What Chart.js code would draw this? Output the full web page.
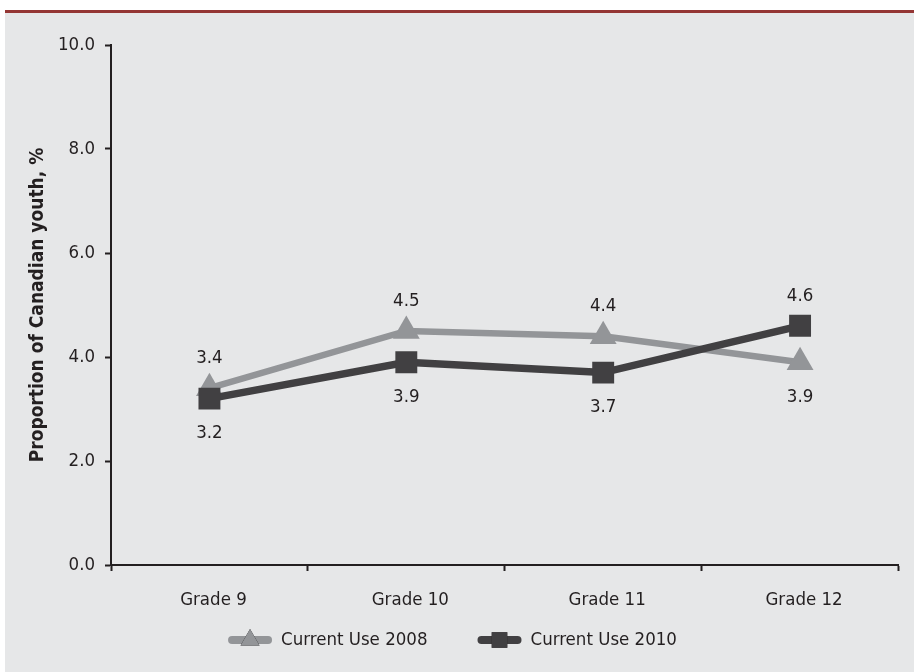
<!DOCTYPE html>
<html>
<head>
<meta charset="utf-8">
<script src="https://cdn.jsdelivr.net/npm/chart.js@4"></script>
<style>
  html, body { margin: 0; padding: 0; background: #fff; }
  #box {
    position: absolute; left: 5px; top: 10px;
    width: 909px; height: 659px;
    border-top: 3px solid #943634;
    background: #e6e7e8;
  }
  #wrap { position: relative; width: 909px; height: 659px; }
</style>
</head>
<body>
<div id="box"><div id="wrap"><canvas id="chart"></canvas></div></div>
<script>
const grades = ['Grade 9', 'Grade 10', 'Grade 11', 'Grade 12'];
const use2008 = [3.4, 4.5, 4.4, 3.9];
const use2010 = [3.2, 3.9, 3.7, 4.6];
const seriesNames = ['Current Use 2008', 'Current Use 2010'];

const FONT = '"DejaVu Sans Condensed", "DejaVu Sans", sans-serif';
const TEXT = '#231f20';
const GRAY = '#939598';
const DARK = '#414042';

// value labels above / below each point
const valueLabels = {
    id: 'valueLabels',
    afterDatasetsDraw(chart) {
        const ctx = chart.ctx;
        ctx.save();
        ctx.font = '18.5px ' + FONT;
        ctx.fillStyle = TEXT;
        ctx.textAlign = 'center';
        ctx.textBaseline = 'middle';
        chart.data.datasets.forEach((ds, i) => {
            const meta = chart.getDatasetMeta(i);
            meta.data.forEach((pt, j) => {
                const dy = ds.labelPos[j] === 'above' ? -30 : 35;
                ctx.fillText(ds.data[j].toFixed(1), pt.x, pt.y + dy);
            });
        });
        ctx.restore();
    }
};

// legend: short line with the marker on it, then the text
const lineLegend = {
    id: 'lineLegend',
    afterDraw(chart) {
        const ctx = chart.ctx;
        const y = 627;
        const lineW = 44, gapText = 9, gapItem = 50;
        ctx.save();
        ctx.font = '18.5px ' + FONT;
        const items = chart.data.datasets.map(ds => ({ ds, w: ctx.measureText(ds.label).width }));
        const total = items.reduce((s, it) => s + lineW + gapText + it.w, 0) + gapItem * (items.length - 1);
        let x = chart.width / 2 - total / 2 - 7;
        items.forEach(it => {
            const ds = it.ds;
            ctx.strokeStyle = ds.borderColor;
            ctx.lineWidth = 8;
            ctx.lineCap = 'round';
            ctx.beginPath();
            ctx.moveTo(x + 4, y);
            ctx.lineTo(x + lineW - 4, y);
            ctx.stroke();
            Chart.helpers.drawPoint(ctx, {
                pointStyle: ds.pointStyle, radius: 11, rotation: 0, borderWidth: 0
            }, x + lineW / 2, y);
            ctx.fillStyle = ds.pointBackgroundColor;
            ctx.fill();
            ctx.fillStyle = TEXT;
            ctx.textAlign = 'left';
            ctx.textBaseline = 'middle';
            ctx.fillText(ds.label, x + lineW + gapText, y);
            x += lineW + gapText + it.w + gapItem;
        });
        ctx.restore();
    }
};

new Chart(document.getElementById('chart'), {
    type: 'line',
    data: {
        labels: grades,
        datasets: [
            {
                label: seriesNames[0],
                data: use2008,
                borderColor: GRAY,
                backgroundColor: GRAY,
                pointBackgroundColor: GRAY,
                pointBorderWidth: 0,
                borderWidth: 6.5,
                pointStyle: 'triangle',
                pointRadius: 15.5,
                order: 1,
                labelPos: ['above', 'above', 'above', 'below']
            },
            {
                label: seriesNames[1],
                data: use2010,
                borderColor: DARK,
                backgroundColor: DARK,
                pointBackgroundColor: DARK,
                pointBorderWidth: 0,
                borderWidth: 7.5,
                pointStyle: 'rect',
                pointRadius: 15.5,
                order: 0,
                labelPos: ['below', 'below', 'below', 'above']
            }
        ]
    },
    options: {
        responsive: true,
        maintainAspectRatio: false,
        animation: false,
        layout: { padding: { top: 32, right: 5, bottom: 62, left: 0 } },
        plugins: {
            legend: { display: false },
            tooltip: { enabled: false }
        },
        scales: {
            x: {
                offset: true,
                grid: { offset: true, drawOnChartArea: false, tickLength: 6, tickColor: TEXT, tickWidth: 2 },
                border: { color: TEXT, width: 2 },
                ticks: { color: TEXT, font: { family: FONT, size: 18.5 }, padding: 18, maxRotation: 0, labelOffset: 4 },
                afterFit(scale) { scale.height = 45; }
            },
            y: {
                min: 0,
                max: 10,
                grid: { drawOnChartArea: false, tickLength: 6, tickColor: TEXT, tickWidth: 2 },
                border: { color: TEXT, width: 2 },
                ticks: {
                    stepSize: 2,
                    color: TEXT,
                    font: { family: FONT, size: 18.5 },
                    padding: 10,
                    callback: v => v.toFixed(1)
                },
                title: {
                    display: true,
                    text: 'Proportion of Canadian youth, %',
                    color: TEXT,
                    font: { family: FONT, size: 19, weight: 'bold' },
                    padding: { top: 22, bottom: 0 }
                },
                afterFit(scale) { scale.width = 106; }
            }
        }
    },
    plugins: [valueLabels, lineLegend]
});
</script>
</body>
</html>
